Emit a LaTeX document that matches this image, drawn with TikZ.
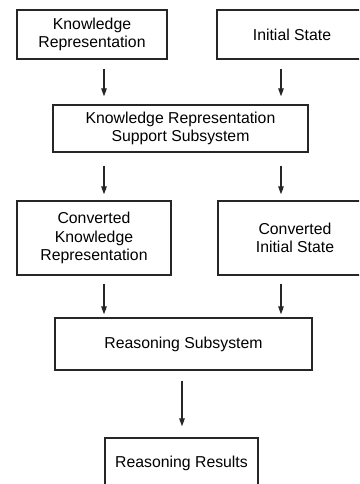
\documentclass[tikz,border=0pt]{standalone}
\usepackage{fontspec}
\setmainfont{Liberation Sans}
\usetikzlibrary{arrows.meta}
\begin{document}
\begin{tikzpicture}[x=1pt,y=-1pt,
  box/.style={draw=black!85, line width=1.3pt, inner sep=0pt, align=center,
    font=\fontsize{15.8}{18.5}\selectfont},
  arr/.style={draw=black!85, line width=1.1pt, -{Triangle[length=8pt,width=5.5pt]}}]
\useasboundingbox (0,0) rectangle (359,484);
\clip (0,0) rectangle (359,484);
\node[box, minimum width=150pt, minimum height=49pt] (kr) at (92,34.5) {Knowledge\\Representation};
\node[box, minimum width=150pt, minimum height=49pt] (is) at (292,34.5) {Initial State};
\node[box, minimum width=255pt, minimum height=47pt] (krss) at (180.5,128.5) {Knowledge Representation\\Support Subsystem};
\node[box, minimum width=154pt, minimum height=74pt] (ckr) at (94,238) {Converted\\Knowledge\\Representation};
\node[box, minimum width=154pt, minimum height=74pt] (cis) at (295,238) {Converted\\Initial State};
\node[box, minimum width=257pt, minimum height=52pt] (rs) at (183.5,344) {Reasoning Subsystem};
\node[box, minimum width=153pt, minimum height=50pt] (rr) at (181.5,463) {Reasoning Results};
\coordinate (xl) at (104,0);
\coordinate (xr) at (281,0);
\coordinate (xm) at (182,0);
\draw[arr, shorten <=9pt, shorten >=8pt] (kr.south -| xl) -- (krss.north -| xl);
\draw[arr, shorten <=9pt, shorten >=8pt] (is.south -| xr) -- (krss.north -| xr);
\draw[arr, shorten <=13pt, shorten >=6pt] (krss.south -| xl) -- (ckr.north -| xl);
\draw[arr, shorten <=13pt, shorten >=6pt] (krss.south -| xr) -- (cis.north -| xr);
\draw[arr, shorten <=8pt, shorten >=3pt] (ckr.south -| xl) -- (rs.north -| xl);
\draw[arr, shorten <=8pt, shorten >=3pt] (cis.south -| xr) -- (rs.north -| xr);
\draw[arr, shorten <=10pt, shorten >=11pt] (rs.south -| xm) -- (rr.north -| xm);
\end{tikzpicture}
\end{document}
